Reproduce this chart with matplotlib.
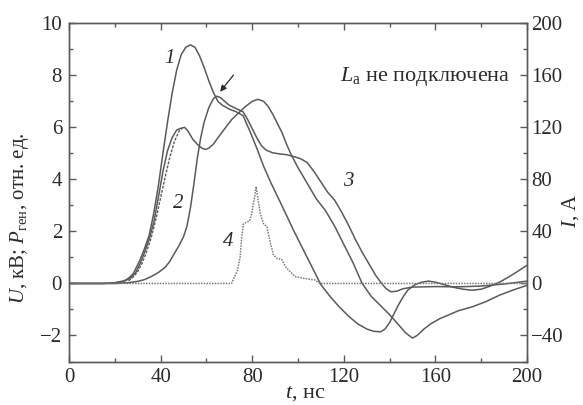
import numpy as np
import matplotlib
matplotlib.use("Agg")
import matplotlib.pyplot as plt

plt.rcParams["font.family"] = ["Liberation Serif", "DejaVu Serif"]
plt.rcParams["mathtext.fontset"] = "custom"
plt.rcParams["mathtext.rm"] = "Liberation Serif"
plt.rcParams["mathtext.it"] = "Liberation Serif:italic"

LINE = "#5a5a5a"
INK = "#2b2b2b"

# curve 1, voltage (kV)
t1 = [0, 15, 20, 24, 26, 28, 31, 33, 35, 37, 39, 41, 43, 45, 47, 49, 51, 53, 55, 57,
      59, 61, 63, 65, 67, 70, 73, 76, 79, 82, 85, 88, 91, 94, 98, 102, 106, 110, 114,
      118, 122, 126, 130, 133, 136, 138, 140, 142, 144, 146, 148, 151, 154, 157, 160,
      164, 168, 172, 176, 180, 184, 188, 192, 196, 200]
u1 = [0, 0, 0.03, 0.1, 0.2, 0.37, 0.9, 1.35, 1.85, 2.7, 3.75, 5.0, 6.2, 7.3, 8.2, 8.8,
      9.08, 9.17, 9.08, 8.75, 8.3, 7.8, 7.35, 7.0, 6.85, 6.7, 6.6, 6.45, 5.85, 5.2, 4.5,
      3.9, 3.35, 2.8, 2.05, 1.35, 0.65, -0.05, -0.5, -0.9, -1.25, -1.55, -1.75, -1.84,
      -1.86, -1.75, -1.5, -1.15, -0.8, -0.5, -0.25, -0.05, 0.05, 0.09, 0.05, -0.05,
      -0.15, -0.22, -0.26, -0.22, -0.1, 0.05, 0.25, 0.47, 0.7]

# curve with the second hump
t2 = [0, 15, 20, 24, 27, 29, 31, 33, 35, 37, 39, 41, 43, 45, 47, 49, 50.5, 52, 54, 56,
      58, 59.5, 61, 63, 65, 68, 71, 74, 77, 80, 82.5, 85, 87, 89, 91, 93, 95, 97, 100,
      104, 108, 112, 116, 120, 124, 128, 132, 136, 140, 144, 147, 150, 152, 155, 158,
      162, 166, 170, 176, 182, 188, 194, 200]
u2 = [0, 0, 0.02, 0.08, 0.22, 0.4, 0.75, 1.2, 1.7, 2.35, 3.3, 4.3, 5.1, 5.6, 5.9, 5.97,
      6.0, 5.85, 5.55, 5.35, 5.2, 5.15, 5.2, 5.35, 5.6, 5.95, 6.3, 6.55, 6.8, 7.0, 7.08,
      7.0, 6.8, 6.5, 6.15, 5.8, 5.35, 4.95, 4.45, 3.85, 3.25, 2.8, 2.2, 1.5, 0.8, 0.0,
      -0.5, -0.85, -1.2, -1.6, -1.9, -2.1, -2.0, -1.75, -1.55, -1.35, -1.2, -1.05, -0.9,
      -0.7, -0.45, -0.25, -0.07]

# dashed trace on the rising edge
t2d = [26, 28, 30, 32, 34, 36, 38, 40, 42, 44, 46, 48, 49.5]
u2d = [0.1, 0.25, 0.45, 0.8, 1.25, 1.8, 2.5, 3.3, 4.1, 4.85, 5.45, 5.85, 5.97]

# curve with the plateau
t3 = [0, 20, 26, 30, 33, 36, 39, 42, 44, 46, 48, 50, 51.5, 53, 54.5, 56, 57.5, 59, 61,
      63, 64.5, 66, 68, 70, 73, 76, 78, 80, 82, 84, 86, 89, 92, 95, 98, 101, 104, 107,
      110, 113, 116, 119, 122, 125, 128, 131, 134, 136.5, 138.5, 140.5, 143, 146, 150,
      160, 170, 180, 190, 200]
u3 = [0, 0, 0.03, 0.08, 0.15, 0.27, 0.42, 0.62, 0.85, 1.15, 1.45, 1.8, 2.2, 2.9, 3.8,
      4.8, 5.6, 6.2, 6.75, 7.1, 7.2, 7.15, 7.0, 6.85, 6.72, 6.6, 6.3, 5.95, 5.6, 5.3,
      5.13, 5.02, 4.98, 4.95, 4.88, 4.8, 4.65, 4.3, 3.9, 3.5, 3.2, 2.75, 2.25, 1.7, 1.2,
      0.75, 0.3, 0.0, -0.2, -0.32, -0.3, -0.2, -0.14, -0.12, -0.13, -0.1, -0.02, 0.09]

# curve 4, current (A)
t4 = [0, 71, 72.5, 73.5, 74.7, 75.4, 76.2, 77.5, 78.8, 79.8, 81, 81.7, 82.4, 83.5,
      84.9, 86.4, 87.8, 89.3, 90.8, 92.9, 94.6, 96, 98.8, 103, 107.5, 109.5, 200]
i4 = [0, 0, 6, 10, 20, 36, 46, 47, 48, 54, 66, 74.4, 66, 54, 46, 43.6, 32, 22, 19.2,
      18.4, 12.8, 10, 5.2, 3.8, 2.6, 0, 0]

fig = plt.figure(figsize=(5.83, 4.05), dpi=100)
ax = fig.add_axes([0.1184, 0.1074, 0.7856, 0.835])
ax2 = ax.twinx()

ax.plot(t1, u1, color=LINE, lw=1.1)
ax.plot(t2, u2, color=LINE, lw=1.1)
ax.plot(t2d, u2d, color=LINE, lw=1.0, ls=(0, (2, 1)))
ax.plot(t3, u3, color=LINE, lw=1.1)
ax2.plot(t4, i4, color="#7a7a7a", lw=1.1, ls=(0, (1, 0.8)))

ax.set_xlim(0, 200)
ax.set_ylim(-3, 10)
ax2.set_ylim(-60, 200)
ax.set_xticks(np.arange(0, 201, 40))
ax.set_xticks(np.arange(20, 200, 40), minor=True)
ax.set_yticks(np.arange(-2, 11, 2))
ax.set_yticks(np.arange(-3, 10, 2), minor=True)
ax2.set_yticks(np.arange(-40, 201, 40))
ax2.set_yticks(np.arange(-60, 200, 40), minor=True)

for a in (ax, ax2):
    a.tick_params(which="both", direction="in", colors=LINE, labelcolor=INK,
                  labelsize=15, width=1.0)
    a.tick_params(which="major", length=5)
    a.tick_params(which="minor", length=3)
    for s in a.spines.values():
        s.set_color(LINE)
        s.set_linewidth(1.0)
ax.tick_params(which="both", top=True, pad=5)
ax2.tick_params(which="both", pad=3)

ax.annotate("", xy=(66, 7.37), xytext=(71.8, 8.01),
            arrowprops=dict(arrowstyle="-|>", color=INK, lw=0.9,
                            mutation_scale=9, shrinkA=0, shrinkB=0))

for s, x, y in [("1", 43.8, 8.65), ("2", 47.8, 3.08), ("3", 122, 3.91), ("4", 69.6, 1.6)]:
    ax.text(x, y, s, fontsize=15, style="italic", color=INK, ha="center", va="center")

ax.text(192.7, 7.95, r"$L_{\rm a}$ не подключена", fontsize=16, color=INK,
        ha="right", va="center")

fig.text(0.034, 0.46, r"$U$, кВ; $P_{\rm ген}$, отн. ед.", rotation=90,
         fontsize=15, color=INK, ha="center", va="center")
fig.text(0.978, 0.48, r"$I$, А", rotation=90, fontsize=15, color=INK,
         ha="center", va="center")
fig.text(0.523, 0.028, r"$t$, нс", fontsize=16, color=INK, ha="center", va="center")

fig.savefig("out.png", dpi=100)
